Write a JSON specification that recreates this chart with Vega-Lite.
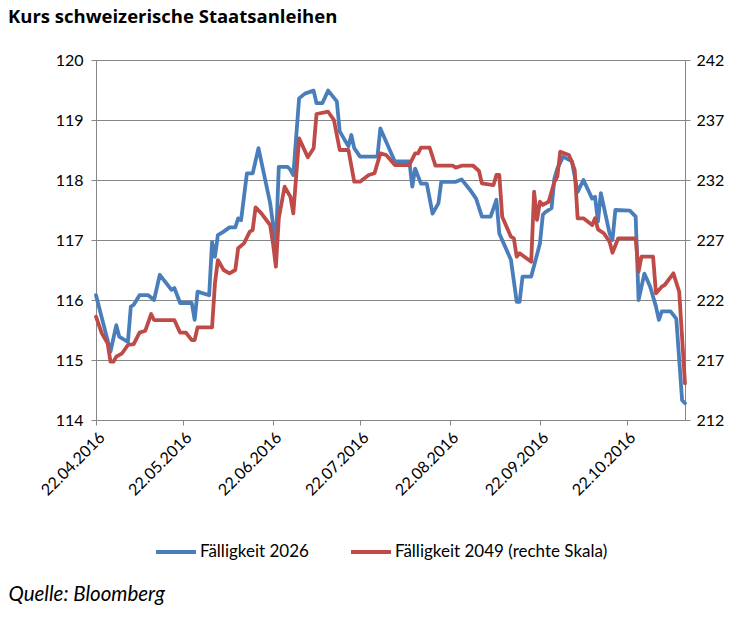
{
  "$schema": "https://vega.github.io/schema/vega-lite/v6.json",
  "width": 589,
  "height": 360,
  "autosize": {"type": "none"},
  "padding": {"left": 96, "top": 60, "right": 69, "bottom": 198},
  "background": "#ffffff",
  "title": {
    "text": "Kurs schweizerische Staatsanleihen",
    "anchor": "start",
    "frame": "group",
    "dx": -88,
    "offset": 26,
    "font": "Open Sans",
    "fontSize": 18.5,
    "fontWeight": "bold",
    "color": "#000000"
  },
  "config": {
    "view": {"stroke": null},
    "axis": {
      "domainColor": "#868686",
      "tickColor": "#868686",
      "gridColor": "#868686",
      "labelColor": "#000000",
      "labelFont": "Lato",
      "labelFontSize": 16,
      "tickSize": 5
    }
  },
  "datasets": {
    "blue": [
      {"date": "2016-04-22", "kurs": 116.08},
      {"date": "2016-04-27", "kurs": 115.14},
      {"date": "2016-04-29", "kurs": 115.58},
      {"date": "2016-04-30", "kurs": 115.39},
      {"date": "2016-05-03", "kurs": 115.30},
      {"date": "2016-05-04", "kurs": 115.89},
      {"date": "2016-05-05", "kurs": 115.92},
      {"date": "2016-05-07", "kurs": 116.08},
      {"date": "2016-05-10", "kurs": 116.08},
      {"date": "2016-05-12", "kurs": 116.00},
      {"date": "2016-05-14", "kurs": 116.42},
      {"date": "2016-05-18", "kurs": 116.17},
      {"date": "2016-05-19", "kurs": 116.20},
      {"date": "2016-05-21", "kurs": 115.95},
      {"date": "2016-05-25", "kurs": 115.95},
      {"date": "2016-05-26", "kurs": 115.67},
      {"date": "2016-05-27", "kurs": 116.14},
      {"date": "2016-05-31", "kurs": 116.08},
      {"date": "2016-06-01", "kurs": 116.97},
      {"date": "2016-06-02", "kurs": 116.72},
      {"date": "2016-06-03", "kurs": 117.08},
      {"date": "2016-06-05", "kurs": 117.14},
      {"date": "2016-06-07", "kurs": 117.21},
      {"date": "2016-06-09", "kurs": 117.21},
      {"date": "2016-06-10", "kurs": 117.36},
      {"date": "2016-06-11", "kurs": 117.33},
      {"date": "2016-06-13", "kurs": 118.11},
      {"date": "2016-06-15", "kurs": 118.11},
      {"date": "2016-06-17", "kurs": 118.53},
      {"date": "2016-06-21", "kurs": 117.62},
      {"date": "2016-06-23", "kurs": 116.92},
      {"date": "2016-06-24", "kurs": 118.22},
      {"date": "2016-06-27", "kurs": 118.22},
      {"date": "2016-06-28", "kurs": 118.17},
      {"date": "2016-06-29", "kurs": 118.08},
      {"date": "2016-07-01", "kurs": 119.36},
      {"date": "2016-07-03", "kurs": 119.44},
      {"date": "2016-07-06", "kurs": 119.49},
      {"date": "2016-07-07", "kurs": 119.28},
      {"date": "2016-07-09", "kurs": 119.28},
      {"date": "2016-07-11", "kurs": 119.49},
      {"date": "2016-07-14", "kurs": 119.31},
      {"date": "2016-07-15", "kurs": 118.81},
      {"date": "2016-07-18", "kurs": 118.56},
      {"date": "2016-07-19", "kurs": 118.75},
      {"date": "2016-07-20", "kurs": 118.53},
      {"date": "2016-07-22", "kurs": 118.39},
      {"date": "2016-07-28", "kurs": 118.39},
      {"date": "2016-07-29", "kurs": 118.86},
      {"date": "2016-08-03", "kurs": 118.31},
      {"date": "2016-08-08", "kurs": 118.31},
      {"date": "2016-08-09", "kurs": 117.89},
      {"date": "2016-08-10", "kurs": 118.19},
      {"date": "2016-08-12", "kurs": 117.94},
      {"date": "2016-08-14", "kurs": 117.94},
      {"date": "2016-08-16", "kurs": 117.44},
      {"date": "2016-08-18", "kurs": 117.61},
      {"date": "2016-08-19", "kurs": 117.97},
      {"date": "2016-08-24", "kurs": 117.97},
      {"date": "2016-08-26", "kurs": 118.01},
      {"date": "2016-08-29", "kurs": 117.83},
      {"date": "2016-08-31", "kurs": 117.69},
      {"date": "2016-09-02", "kurs": 117.39},
      {"date": "2016-09-05", "kurs": 117.39},
      {"date": "2016-09-07", "kurs": 117.67},
      {"date": "2016-09-08", "kurs": 117.11},
      {"date": "2016-09-12", "kurs": 116.67},
      {"date": "2016-09-14", "kurs": 115.97},
      {"date": "2016-09-15", "kurs": 115.97},
      {"date": "2016-09-16", "kurs": 116.39},
      {"date": "2016-09-19", "kurs": 116.39},
      {"date": "2016-09-22", "kurs": 116.94},
      {"date": "2016-09-23", "kurs": 117.42},
      {"date": "2016-09-24", "kurs": 117.47},
      {"date": "2016-09-26", "kurs": 117.53},
      {"date": "2016-09-27", "kurs": 118.03},
      {"date": "2016-09-28", "kurs": 118.19},
      {"date": "2016-09-30", "kurs": 118.39},
      {"date": "2016-10-03", "kurs": 118.31},
      {"date": "2016-10-05", "kurs": 117.80},
      {"date": "2016-10-07", "kurs": 118.00},
      {"date": "2016-10-10", "kurs": 117.69},
      {"date": "2016-10-11", "kurs": 117.72},
      {"date": "2016-10-12", "kurs": 117.31},
      {"date": "2016-10-13", "kurs": 117.78},
      {"date": "2016-10-14", "kurs": 117.56},
      {"date": "2016-10-16", "kurs": 117.11},
      {"date": "2016-10-17", "kurs": 117.00},
      {"date": "2016-10-18", "kurs": 117.50},
      {"date": "2016-10-23", "kurs": 117.49},
      {"date": "2016-10-25", "kurs": 117.39},
      {"date": "2016-10-26", "kurs": 116.00},
      {"date": "2016-10-28", "kurs": 116.44},
      {"date": "2016-10-30", "kurs": 116.22},
      {"date": "2016-11-01", "kurs": 115.89},
      {"date": "2016-11-02", "kurs": 115.67},
      {"date": "2016-11-03", "kurs": 115.81},
      {"date": "2016-11-06", "kurs": 115.81},
      {"date": "2016-11-08", "kurs": 115.69},
      {"date": "2016-11-10", "kurs": 114.33},
      {"date": "2016-11-11", "kurs": 114.28}
    ],
    "red": [
      {"date": "2016-04-22", "kurs": 220.61},
      {"date": "2016-04-24", "kurs": 219.22},
      {"date": "2016-04-26", "kurs": 218.39},
      {"date": "2016-04-27", "kurs": 216.86},
      {"date": "2016-04-28", "kurs": 216.86},
      {"date": "2016-04-29", "kurs": 217.28},
      {"date": "2016-05-01", "kurs": 217.56},
      {"date": "2016-05-03", "kurs": 218.25},
      {"date": "2016-05-05", "kurs": 218.33},
      {"date": "2016-05-07", "kurs": 219.28},
      {"date": "2016-05-09", "kurs": 219.44},
      {"date": "2016-05-11", "kurs": 220.83},
      {"date": "2016-05-12", "kurs": 220.33},
      {"date": "2016-05-19", "kurs": 220.33},
      {"date": "2016-05-21", "kurs": 219.28},
      {"date": "2016-05-23", "kurs": 219.28},
      {"date": "2016-05-25", "kurs": 218.65},
      {"date": "2016-05-26", "kurs": 218.65},
      {"date": "2016-05-27", "kurs": 219.72},
      {"date": "2016-06-01", "kurs": 219.72},
      {"date": "2016-06-02", "kurs": 223.39},
      {"date": "2016-06-03", "kurs": 225.33},
      {"date": "2016-06-05", "kurs": 224.50},
      {"date": "2016-06-07", "kurs": 224.22},
      {"date": "2016-06-09", "kurs": 224.50},
      {"date": "2016-06-10", "kurs": 226.31},
      {"date": "2016-06-12", "kurs": 226.72},
      {"date": "2016-06-14", "kurs": 227.69},
      {"date": "2016-06-15", "kurs": 227.83},
      {"date": "2016-06-16", "kurs": 229.72},
      {"date": "2016-06-18", "kurs": 229.22},
      {"date": "2016-06-21", "kurs": 228.25},
      {"date": "2016-06-22", "kurs": 226.72},
      {"date": "2016-06-23", "kurs": 224.78},
      {"date": "2016-06-24", "kurs": 228.81},
      {"date": "2016-06-26", "kurs": 231.44},
      {"date": "2016-06-28", "kurs": 230.61},
      {"date": "2016-06-29", "kurs": 229.22},
      {"date": "2016-07-01", "kurs": 235.47},
      {"date": "2016-07-04", "kurs": 233.89},
      {"date": "2016-07-06", "kurs": 234.64},
      {"date": "2016-07-07", "kurs": 237.50},
      {"date": "2016-07-11", "kurs": 237.69},
      {"date": "2016-07-13", "kurs": 237.00},
      {"date": "2016-07-15", "kurs": 234.50},
      {"date": "2016-07-18", "kurs": 234.50},
      {"date": "2016-07-20", "kurs": 231.86},
      {"date": "2016-07-22", "kurs": 231.86},
      {"date": "2016-07-25", "kurs": 232.42},
      {"date": "2016-07-27", "kurs": 232.56},
      {"date": "2016-07-29", "kurs": 234.22},
      {"date": "2016-07-31", "kurs": 234.08},
      {"date": "2016-08-01", "kurs": 233.81},
      {"date": "2016-08-03", "kurs": 233.25},
      {"date": "2016-08-08", "kurs": 233.25},
      {"date": "2016-08-10", "kurs": 234.22},
      {"date": "2016-08-11", "kurs": 234.22},
      {"date": "2016-08-12", "kurs": 234.69},
      {"date": "2016-08-15", "kurs": 234.69},
      {"date": "2016-08-17", "kurs": 233.19},
      {"date": "2016-08-23", "kurs": 233.19},
      {"date": "2016-08-24", "kurs": 233.03},
      {"date": "2016-08-26", "kurs": 233.19},
      {"date": "2016-08-30", "kurs": 233.19},
      {"date": "2016-09-01", "kurs": 232.75},
      {"date": "2016-09-02", "kurs": 231.72},
      {"date": "2016-09-06", "kurs": 231.58},
      {"date": "2016-09-07", "kurs": 232.42},
      {"date": "2016-09-08", "kurs": 232.42},
      {"date": "2016-09-09", "kurs": 228.94},
      {"date": "2016-09-12", "kurs": 227.28},
      {"date": "2016-09-13", "kurs": 227.14},
      {"date": "2016-09-14", "kurs": 225.61},
      {"date": "2016-09-15", "kurs": 225.89},
      {"date": "2016-09-19", "kurs": 225.19},
      {"date": "2016-09-20", "kurs": 231.03},
      {"date": "2016-09-21", "kurs": 228.67},
      {"date": "2016-09-22", "kurs": 230.19},
      {"date": "2016-09-23", "kurs": 229.92},
      {"date": "2016-09-25", "kurs": 230.19},
      {"date": "2016-09-27", "kurs": 231.86},
      {"date": "2016-09-28", "kurs": 232.28},
      {"date": "2016-09-29", "kurs": 234.36},
      {"date": "2016-10-02", "kurs": 234.08},
      {"date": "2016-10-03", "kurs": 233.53},
      {"date": "2016-10-04", "kurs": 232.83},
      {"date": "2016-10-05", "kurs": 228.81},
      {"date": "2016-10-07", "kurs": 228.81},
      {"date": "2016-10-10", "kurs": 228.25},
      {"date": "2016-10-11", "kurs": 228.81},
      {"date": "2016-10-12", "kurs": 227.89},
      {"date": "2016-10-14", "kurs": 227.56},
      {"date": "2016-10-16", "kurs": 226.86},
      {"date": "2016-10-17", "kurs": 225.94},
      {"date": "2016-10-19", "kurs": 227.14},
      {"date": "2016-10-25", "kurs": 227.14},
      {"date": "2016-10-26", "kurs": 224.36},
      {"date": "2016-10-27", "kurs": 225.61},
      {"date": "2016-10-31", "kurs": 225.61},
      {"date": "2016-11-01", "kurs": 222.56},
      {"date": "2016-11-03", "kurs": 223.11},
      {"date": "2016-11-04", "kurs": 223.25},
      {"date": "2016-11-07", "kurs": 224.22},
      {"date": "2016-11-09", "kurs": 222.69},
      {"date": "2016-11-11", "kurs": 215.06}
    ]
  },
  "encoding": {
    "x": {
      "field": "date",
      "type": "temporal",
      "scale": {
        "type": "utc",
        "domain": [
          {"year": 2016, "month": 4, "date": 22, "utc": true},
          {"year": 2016, "month": 11, "date": 11, "utc": true}
        ]
      },
      "axis": {
        "values": [
          {"year": 2016, "month": 4, "date": 22, "utc": true},
          {"year": 2016, "month": 5, "date": 22, "utc": true},
          {"year": 2016, "month": 6, "date": 22, "utc": true},
          {"year": 2016, "month": 7, "date": 22, "utc": true},
          {"year": 2016, "month": 8, "date": 22, "utc": true},
          {"year": 2016, "month": 9, "date": 22, "utc": true},
          {"year": 2016, "month": 10, "date": 22, "utc": true}
        ],
        "labelExpr": "utcFormat(datum.value, '%d.%m.%Y')",
        "labelAngle": -45,
        "labelPadding": 4,
        "labelOverlap": false,
        "labelFlush": false,
        "grid": false,
        "title": "Quelle: Bloomberg",
        "titleX": -88,
        "titleY": 180,
        "titleAlign": "left",
        "titleAnchor": "start",
        "titleBaseline": "alphabetic",
        "titleFont": "Lato",
        "titleFontSize": 20.5,
        "titleFontStyle": "italic",
        "titleFontWeight": "normal",
        "titleColor": "#000000"
      }
    }
  },
  "layer": [
    {
      "data": {"name": "blue"},
      "mark": {"type": "line", "strokeWidth": 3.8, "strokeJoin": "round", "strokeCap": "round"},
      "encoding": {
        "y": {
          "field": "kurs",
          "type": "quantitative",
          "scale": {"domain": [114, 120], "nice": false, "zero": false},
          "axis": {
            "orient": "left",
            "values": [114, 115, 116, 117, 118, 119, 120],
            "grid": true,
            "title": null,
            "labelPadding": 8
          }
        },
        "color": {
          "datum": "Fälligkeit 2026",
          "type": "nominal",
          "scale": {
            "domain": ["Fälligkeit 2026", "Fälligkeit 2049 (rechte Skala)"],
            "range": ["#4A7EBB", "#BE4B48"]
          },
          "legend": {
            "orient": "none",
            "legendX": 58,
            "legendY": 470,
            "direction": "horizontal",
            "title": null,
            "symbolType": "stroke",
            "symbolStrokeWidth": 4,
            "symbolSize": 1600,
            "labelFont": "Lato",
            "labelFontSize": 17,
            "labelColor": "#000000",
            "labelOffset": 2,
            "labelLimit": 400,
            "columnPadding": 34
          }
        }
      }
    },
    {
      "data": {"name": "red"},
      "mark": {"type": "line", "strokeWidth": 3.8, "strokeJoin": "round", "strokeCap": "round"},
      "encoding": {
        "y": {
          "field": "kurs",
          "type": "quantitative",
          "scale": {"domain": [212, 242], "nice": false, "zero": false},
          "axis": {
            "orient": "right",
            "values": [212, 217, 222, 227, 232, 237, 242],
            "grid": false,
            "title": null,
            "labelPadding": 6
          }
        },
        "color": {"datum": "Fälligkeit 2049 (rechte Skala)", "type": "nominal"}
      }
    }
  ],
  "resolve": {"scale": {"y": "independent"}, "axis": {"y": "independent"}}
}
